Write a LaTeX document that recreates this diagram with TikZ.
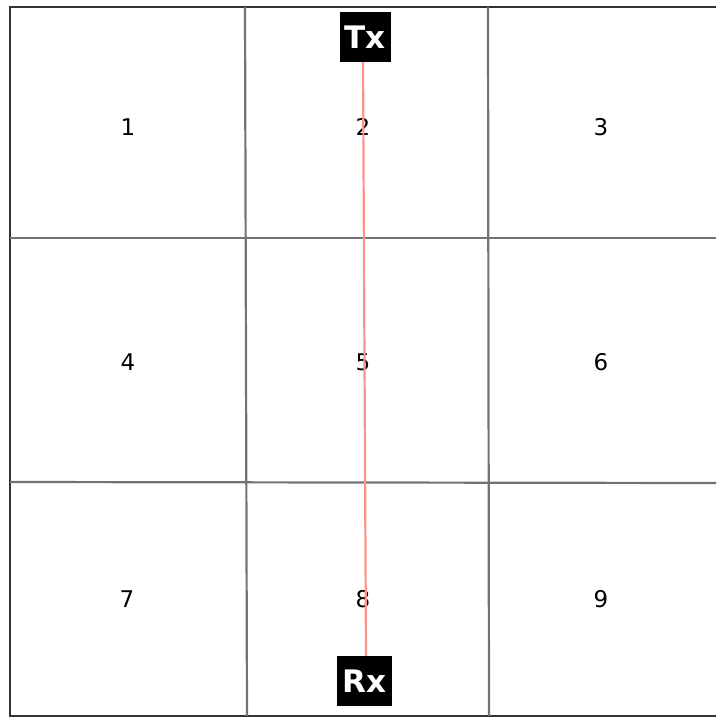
\documentclass[tikz,border=0pt]{standalone}
\usepackage{fontspec}
\setmainfont{DejaVu Sans}
\definecolor{salmon}{RGB}{250,128,114}
\begin{document}
\begin{tikzpicture}[
  x=1pt, y=-1pt, font=\fontsize{23}{27}\selectfont,
  frame/.style={line width=2.4pt, black!80},
  grid/.style={line width=2.2pt, black!55},
  tag/.style={fill=black, text=white, inner sep=0pt, minimum width=51pt, minimum height=50pt, font=\fontsize{31}{35}\selectfont\bfseries},
  ray/.style={line width=2.2pt, salmon!85}
]
\useasboundingbox (0,0) rectangle (716,718);

%% Outer frame (open on the right)
\draw[frame] (716,7) -- (10,7) -- (10,716) -- (716,716);

%% Room grid
\draw[grid] (245,7) -- (247,716);
\draw[grid] (488,7) -- (489,716);
\draw[grid] (10,238) -- (716,238);
\draw[grid] (10,482) -- (716,483);

%% Cell numbers
\node (c1) at (128,127) {1};
\node (c2) at (363,127) {2};
\node (c3) at (601,127) {3};
\node (c4) at (128,362) {4};
\node (c5) at (363,362) {5};
\node (c6) at (601,362) {6};
\node (c7) at (127,599) {7};
\node (c8) at (363,599) {8};
\node (c9) at (601,599) {9};

%% Transmitter and receiver
\node[tag] (tx) at (365,37) {Tx};
\node[tag, minimum width=55pt] (rx) at (364.5,681) {Rx};

%% Line of sight
\draw[ray] ([xshift=-2pt]tx.south) -- ([xshift=1.5pt]rx.north);
\end{tikzpicture}
\end{document}
